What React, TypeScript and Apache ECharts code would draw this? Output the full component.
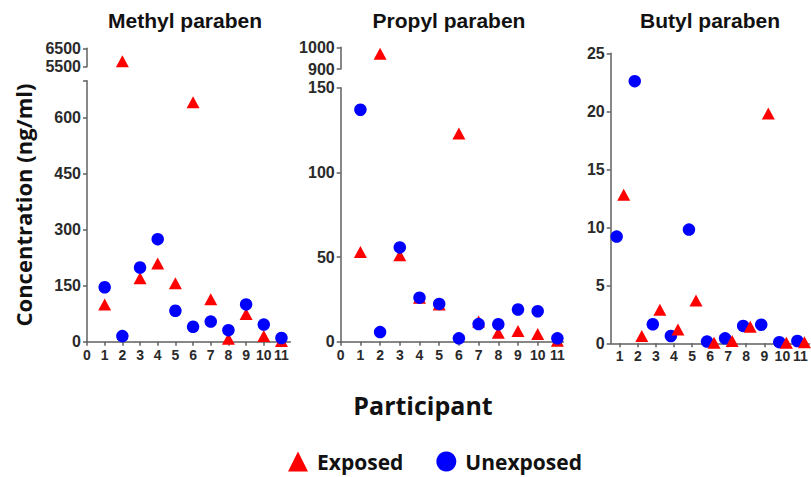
import React, { useEffect, useRef } from "react";
import * as echarts from "echarts";

// ---- data ----
const participants = [1, 2, 3, 4, 5, 6, 7, 8, 9, 10, 11];
const methylExposed = [100, 5800, 170, 210, 157, 642, 114, 8, 74, 15, 2];
const methylUnexposed = [146, 15, 199, 275, 83, 40, 54, 31, 100, 46, 10];
const propylExposed = [53, 970, 51, 26, 22, 123, 12, 5.3, 6.3, 4.5, 0.5];
const propylUnexposed = [137, 5.7, 55.7, 26, 22.3, 2, 10.4, 10.3, 19, 18, 2];
const butylExposed = [12.8, 0.63, 2.9, 1.2, 3.7, 0.05, 0.2, 1.43, 19.8, 0.05, 0.1];
const butylUnexposed = [9.2, 22.6, 1.64, 0.63, 9.8, 0.15, 0.43, 1.5, 1.6, 0.1, 0.2];

const xTicksWithZero = [0, ...participants];
const methylLowerTicks = [0, 150, 300, 450, 600];
const methylLowerMax = 700;
const methylUpperTicks = [5500, 6500];
const propylLowerTicks = [0, 50, 100, 150];
const propylUpperTicks = [900, 1000];
const butylTicks = [0, 5, 10, 15, 20, 25];

const RED = "#ff0000";
const BLUE = "#0000ff";
const AXIS = "#606060";
const TICKFONT = "Liberation Sans, Arial, sans-serif";
const LABELFONT = "Open Sans, Noto Sans, sans-serif";

export default function App() {
  const ref = useRef<HTMLDivElement>(null);
  useEffect(() => {
    document.body.style.margin = "0";
    if (!ref.current) return;
    const chart = echarts.init(ref.current, undefined, { renderer: "svg" });

    const axisLine = { show: true, lineStyle: { color: AXIS, width: 1.5 } };
    const axisTick = (vals: number[]) => ({
      show: true,
      inside: false,
      length: 4,
      lineStyle: { color: AXIS, width: 1.5 },
      customValues: vals,
    });
    const fmt = (v: number) => String(v);
    const yLabel = (vals: number[]) => ({
      show: true,
      customValues: vals,
      formatter: fmt,
      margin: 6,
      color: "#2a2a2a",
      fontSize: 16,
      fontWeight: "bold",
      fontFamily: TICKFONT,
    });
    const xLabel = (vals: number[]) => ({
      show: true,
      customValues: vals,
      formatter: fmt,
      margin: 6,
      color: "#2a2a2a",
      fontSize: 14,
      fontWeight: "bold",
      fontFamily: TICKFONT,
    });

    const grids = [
      { left: 87, top: 48.3, width: 203.3, height: 18.4 }, // methyl upper
      { left: 87, top: 80.7, width: 203.3, height: 261 }, // methyl lower
      { left: 340.7, top: 47.3, width: 222.6, height: 21.7 }, // propyl upper
      { left: 340.7, top: 87.7, width: 222.6, height: 254 }, // propyl lower
      { left: 610.7, top: 53.3, width: 198.8, height: 290 }, // butyl
    ];

    const hiddenX = (gi: number, min: number, max: number) => ({
      type: "value",
      gridIndex: gi,
      min,
      max,
      show: false,
    });
    const visibleX = (gi: number, min: number, max: number, ticks: number[]) => ({
      type: "value",
      gridIndex: gi,
      min,
      max,
      axisLine,
      axisTick: axisTick(ticks),
      axisLabel: xLabel(ticks),
      splitLine: { show: false },
    });
    const yAx = (gi: number, min: number, max: number, ticks: number[], labels: number[]) => ({
      type: "value",
      gridIndex: gi,
      min,
      max,
      axisLine,
      axisTick: axisTick(ticks),
      axisLabel: yLabel(labels),
      splitLine: { show: false },
    });

    const methylLowerTickVals = [...methylLowerTicks, methylLowerMax];

    const xAxis = [
      hiddenX(0, 0, 11.5),
      visibleX(1, 0, 11.5, xTicksWithZero),
      hiddenX(2, 0, 11.3),
      visibleX(3, 0, 11.3, xTicksWithZero),
      visibleX(4, 0.5, 11.5, participants),
    ];
    const yAxis = [
      yAx(0, methylUpperTicks[0], methylUpperTicks[1], methylUpperTicks, methylUpperTicks),
      yAx(1, 0, methylLowerMax, methylLowerTickVals, methylLowerTicks),
      yAx(2, propylUpperTicks[0], propylUpperTicks[1], propylUpperTicks, propylUpperTicks),
      yAx(3, 0, propylLowerTicks[propylLowerTicks.length - 1], propylLowerTicks, propylLowerTicks),
      yAx(4, 0, butylTicks[butylTicks.length - 1], butylTicks, butylTicks),
    ];

    const triSize = [13, 12];
    const circSize = 12.5;
    const pts = (vals: number[], filter: (v: number) => boolean, offset = 0) =>
      vals
        .map((v, i) => [participants[i] + offset, v])
        .filter((p) => filter(p[1]));

    const mk = (name: string, gi: number, data: number[][], z: number) => ({
      type: "scatter",
      name,
      xAxisIndex: gi,
      yAxisIndex: gi,
      data,
      symbol: name === "Exposed" ? "triangle" : "circle",
      symbolSize: name === "Exposed" ? triSize : circSize,
      itemStyle: { color: name === "Exposed" ? RED : BLUE, opacity: 1 },
      z,
      clip: false,
    });

    const mLow = (v: number) => v <= methylLowerMax;
    const mHigh = (v: number) => v >= methylUpperTicks[0];
    const pLow = (v: number) => v <= propylLowerTicks[propylLowerTicks.length - 1];
    const pHigh = (v: number) => v >= propylUpperTicks[0];
    const all = () => true;

    const series = [
      mk("Exposed", 0, pts(methylExposed, mHigh), 2),
      mk("Exposed", 1, pts(methylExposed, mLow), 2),
      mk("Unexposed", 0, pts(methylUnexposed, mHigh), 3),
      mk("Unexposed", 1, pts(methylUnexposed, mLow), 3),
      mk("Exposed", 2, pts(propylExposed, pHigh), 2),
      mk("Exposed", 3, pts(propylExposed, pLow), 2),
      mk("Unexposed", 2, pts(propylUnexposed, pHigh), 3),
      mk("Unexposed", 3, pts(propylUnexposed, pLow), 3),
      mk("Unexposed", 4, pts(butylUnexposed, all, -0.17), 2),
      mk("Exposed", 4, pts(butylExposed, all, 0.22), 3),
    ];

    const titleStyle = {
      fontSize: 21,
      fontWeight: "bold",
      fontFamily: TICKFONT,
      fill: "#111",
      textAlign: "center",
      textVerticalAlign: "middle",
    };

    chart.setOption({
      animation: false,
      backgroundColor: "#ffffff",
      grid: grids,
      xAxis,
      yAxis,
      series,
      legend: {
        left: 283,
        top: 446,
        itemWidth: 20,
        itemHeight: 20,
        itemGap: 33,
        data: [
          { name: "Exposed", icon: "triangle" },
          { name: "Unexposed", icon: "circle" },
        ],
        textStyle: {
          fontSize: 21,
          fontWeight: "bold",
          fontFamily: LABELFONT,
          color: "#111",
          padding: [0, 0, 0, 4],
        },
        selectedMode: false,
      },
      graphic: [
        { type: "text", x: 185, y: 20.5, style: { ...titleStyle, text: "Methyl paraben" } },
        { type: "text", x: 449, y: 20, style: { ...titleStyle, text: "Propyl paraben" } },
        { type: "text", x: 710, y: 20, style: { ...titleStyle, text: "Butyl paraben" } },
        {
          type: "text",
          x: 23,
          y: 205,
          rotation: Math.PI / 2,
          style: {
            text: "Concentration (ng/ml)",
            fontSize: 22,
            fontWeight: "bold",
            fontFamily: LABELFONT,
            fill: "#111",
            textAlign: "center",
            textVerticalAlign: "middle",
          },
        },
        {
          type: "text",
          x: 423,
          y: 405,
          style: {
            text: "Participant",
            fontSize: 25,
            fontWeight: "bold",
            fontFamily: LABELFONT,
            fill: "#111",
            textAlign: "center",
            textVerticalAlign: "middle",
          },
        },
      ],
    });
    return () => chart.dispose();
  }, []);
  return <div ref={ref} style={{ width: 811, height: 477 }} />;
}
